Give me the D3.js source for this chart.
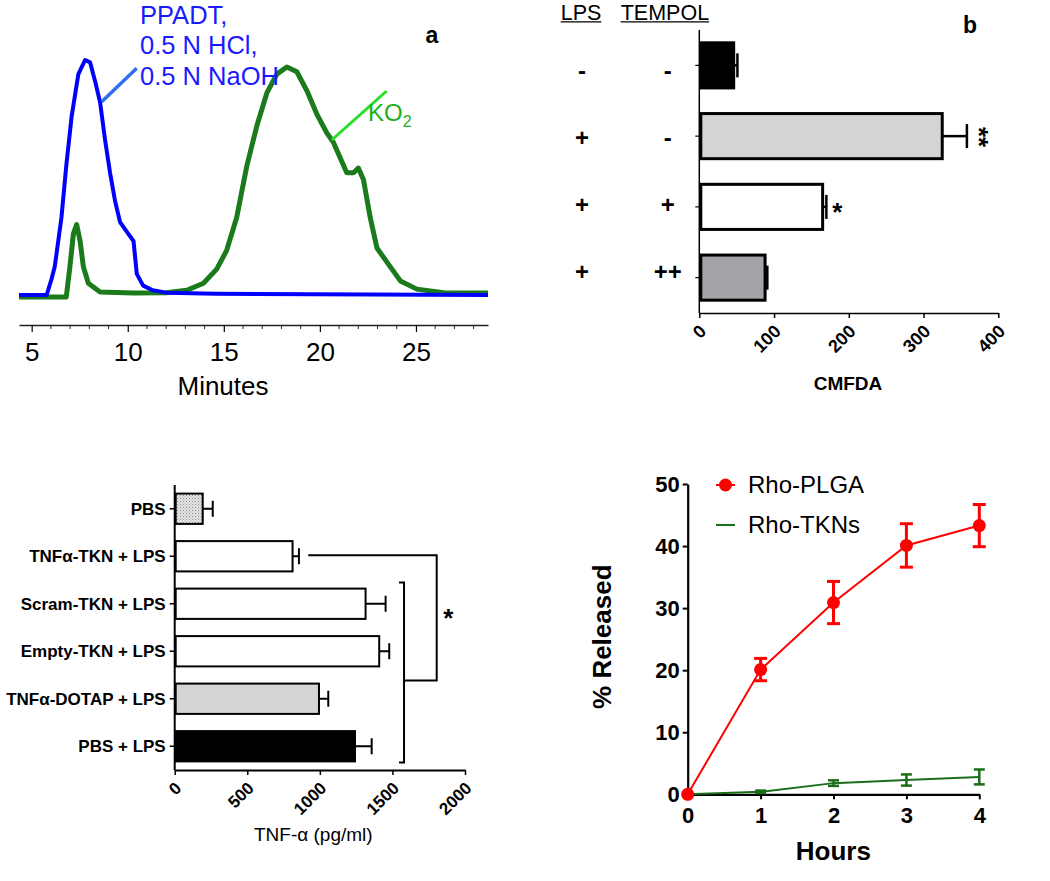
<!DOCTYPE html>
<html>
<head>
<meta charset="utf-8">
<script src="https://cdn.jsdelivr.net/npm/d3@7"></script>
<style>
  body { margin: 0; background: #fff; }
  svg { display: block; }
</style>
</head>
<body>
<svg id="chart" width="1050" height="881"></svg>
<script>
// ---- panel a: chromatogram traces ----
const blueMinutes = [4.34, 5.78, 6.04, 6.2, 6.55, 6.8, 7.08, 7.43, 7.78, 8.04, 8.3, 8.56, 8.82, 9.08, 9.34, 9.6, 10.03, 10.3, 10.47, 10.8, 11.3, 12.0, 14.6, 28.75];
const blueSignal = [0, 0, 0.07, 0.12, 0.33, 0.55, 0.76, 0.94, 1.0, 0.99, 0.91, 0.82, 0.66, 0.52, 0.40, 0.31, 0.26, 0.23, 0.09, 0.04, 0.02, 0.01, 0.005, 0];
const greenMinutes = [4.34, 6.8, 6.99, 7.17, 7.34, 7.52, 7.69, 7.95, 8.56, 10.3, 12.0, 13.07, 13.94, 14.63, 15.15, 15.67, 16.2, 16.72, 17.24, 17.76, 18.28, 18.8, 19.32, 19.84, 20.36, 20.7, 21.4, 21.75, 22.0, 22.27, 22.62, 22.97, 23.49, 24.19, 25.05, 26.44, 28.75];
const greenSignal = [-0.008, -0.008, 0.12, 0.26, 0.30, 0.23, 0.12, 0.05, 0.013, 0.008, 0.01, 0.02, 0.05, 0.11, 0.19, 0.33, 0.55, 0.72, 0.86, 0.94, 0.97, 0.95, 0.87, 0.77, 0.69, 0.65, 0.52, 0.52, 0.54, 0.49, 0.33, 0.20, 0.14, 0.06, 0.025, 0.01, 0.008];
const minuteTicks = [5, 10, 15, 20, 25];

// ---- panel b: CMFDA ----
const lpsSigns = ['-', '+', '+', '+'];
const tempolSigns = ['-', '-', '+', '++'];
const cmfdaMean = [46, 325, 165, 88];
const cmfdaErr = [5, 33, 5, 3];
const cmfdaStars = ['', '**', '*', ''];
const cmfdaTicks = [0, 100, 200, 300, 400];

// ---- panel c: TNF-alpha ----
const tnfGroups = ['PBS', 'TNFα-TKN + LPS', 'Scram-TKN + LPS', 'Empty-TKN + LPS', 'TNFα-DOTAP + LPS', 'PBS + LPS'];
const tnfMean = [193, 812, 1315, 1409, 994, 1242];
const tnfErr = [69, 44, 138, 69, 64, 115];
const tnfTicks = [0, 500, 1000, 1500, 2000];

// ---- panel d: release ----
const hours = [0, 1, 2, 3, 4];
const plgaRelease = [0, 20.1, 30.9, 40.1, 43.3];
const plgaErr = [0, 1.8, 3.4, 3.5, 3.4];
const tknRelease = [0, 0.4, 1.8, 2.3, 2.8];
const tknErr = [0, 0.2, 0.45, 0.9, 1.2];
const releaseTicks = [0, 10, 20, 30, 40, 50];

const FONT = '"Liberation Sans", Arial, sans-serif';
const svg = d3.select('#chart').attr('font-family', FONT);
svg.append('rect').attr('width', 1050).attr('height', 881).attr('fill', '#fff');
const intFmt = d3.format('d');

function styleAxis(g, size, weight) {
  g.attr('font-family', FONT).attr('font-size', size).attr('font-weight', weight || 'normal');
  g.selectAll('text').attr('fill', '#000');
  g.selectAll('line').attr('stroke', '#000');
  g.select('.domain').attr('stroke', '#000');
}

// ================= panel a =================
(function () {
  const x = d3.scaleLinear().domain([4.34, 28.75]).range([19, 488]);
  const y = d3.scaleLinear().domain([0, 1]).range([295, 60]);
  const g = svg.append('g');

  const axis = g.append('g').attr('transform', 'translate(0,325)')
    .call(d3.axisBottom(x).tickValues(minuteTicks).tickSize(7).tickSizeOuter(0).tickPadding(11));
  styleAxis(axis, 26);
  axis.select('.domain').attr('stroke', '#222').attr('stroke-width', 1.5);
  axis.selectAll('.tick line').attr('stroke-width', 1.2);

  g.append('g').selectAll('line')
    .data(d3.range(5, 29).filter(m => m % 5 !== 0))
    .join('line')
    .attr('x1', d => x(d)).attr('x2', d => x(d))
    .attr('y1', 325).attr('y2', 329)
    .attr('stroke', '#222').attr('stroke-width', 1);

  g.append('text').attr('x', 223).attr('y', 395)
    .attr('text-anchor', 'middle').attr('font-size', 26).text('Minutes');

  const line = d3.line().x(d => x(d[0])).y(d => y(d[1]));
  g.append('path')
    .datum(d3.zip(greenMinutes, greenSignal))
    .attr('d', line).attr('fill', 'none')
    .attr('stroke', '#1b7a1b').attr('stroke-width', 5).attr('stroke-linejoin', 'round');
  g.append('path')
    .datum(d3.zip(blueMinutes, blueSignal))
    .attr('d', line).attr('fill', 'none')
    .attr('stroke', '#0000ff').attr('stroke-width', 4).attr('stroke-linejoin', 'round');

  // labels with pointers
  const lab = g.append('text').attr('fill', '#1a1aff').attr('font-size', 25.5);
  ['PPADT,', '0.5 N HCl,', '0.5 N NaOH'].forEach((t, i) => {
    lab.append('tspan').attr('x', 140).attr('y', 23.5 + i * 30.5).text(t);
  });
  g.append('line').attr('x1', 101.7).attr('y1', 101.7).attr('x2', 136.7).attr('y2', 68.3)
    .attr('stroke', '#3070f0').attr('stroke-width', 3.5);

  g.append('line').attr('x1', 331.7).attr('y1', 140).attr('x2', 386.7).attr('y2', 91)
    .attr('stroke', '#22e022').attr('stroke-width', 3);
  const ko = g.append('text').attr('x', 368).attr('y', 121).attr('fill', '#20b020').attr('font-size', 24);
  ko.append('tspan').text('KO');
  ko.append('tspan').attr('font-size', 16).attr('dy', 6).text('2');

  g.append('text').attr('x', 432).attr('y', 43).attr('text-anchor', 'middle')
    .attr('font-size', 23).attr('font-weight', 'bold').text('a');
})();

// ================= panel b =================
(function () {
  const g = svg.append('g');
  const x = d3.scaleLinear().domain([0, 400]).range([699.3, 998.3]);
  const y = d3.scaleBand().domain(d3.range(cmfdaMean.length)).range([30, 313])
    .paddingInner(0.32).paddingOuter(0.16);
  const row = d3.scalePoint().domain(d3.range(cmfdaMean.length)).range([78.7, 279.5]);

  // header
  [['LPS', 560.7], ['TEMPOL', 620.7]].forEach(([t, px]) => {
    const txt = g.append('text').attr('x', px).attr('y', 19.5).attr('font-size', 21.5).text(t);
    const w = txt.node().getComputedTextLength();
    g.append('line').attr('x1', px).attr('x2', px + w).attr('y1', 21.8).attr('y2', 21.8)
      .attr('stroke', '#000').attr('stroke-width', 1.2);
  });
  g.append('text').attr('x', 970).attr('y', 33).attr('text-anchor', 'middle')
    .attr('font-size', 23).attr('font-weight', 'bold').text('b');

  g.selectAll('text.lps').data(lpsSigns).join('text').attr('class', 'lps')
    .attr('x', 582).attr('y', (d, i) => row(i)).attr('text-anchor', 'middle')
    .attr('font-size', 24).attr('font-weight', 'bold').text(d => d);
  g.selectAll('text.tempol').data(tempolSigns).join('text').attr('class', 'tempol')
    .attr('x', 667.7).attr('y', (d, i) => row(i)).attr('text-anchor', 'middle')
    .attr('font-size', 24).attr('font-weight', 'bold').text(d => d);

  const fills = ['#000000', '#d4d4d4', '#ffffff', '#a3a3a8'];
  g.selectAll('rect.bar').data(cmfdaMean).join('rect').attr('class', 'bar')
    .attr('x', x(0) + 1.5).attr('y', (d, i) => y(i) + 1.5)
    .attr('width', d => x(d) - x(0) - 1.5).attr('height', y.bandwidth() - 3)
    .attr('fill', (d, i) => fills[i]).attr('stroke', '#000').attr('stroke-width', 3);

  cmfdaMean.forEach((m, i) => {
    const cy = y(i) + y.bandwidth() / 2;
    const xe = x(m + cmfdaErr[i]);
    g.append('line').attr('x1', x(m)).attr('x2', xe).attr('y1', cy).attr('y2', cy)
      .attr('stroke', '#000').attr('stroke-width', 2.5);
    g.append('line').attr('x1', xe).attr('x2', xe).attr('y1', cy - 12).attr('y2', cy + 12)
      .attr('stroke', '#000').attr('stroke-width', 2.5);
  });

  // stars
  const i2 = cmfdaStars.indexOf('**');
  g.append('text')
    .attr('transform', `translate(${x(cmfdaMean[i2] + cmfdaErr[i2]) + 3.5},${y(i2) + y.bandwidth() / 2 + 1}) rotate(90)`)
    .attr('text-anchor', 'middle').attr('font-size', 26).attr('font-weight', 'bold').text('**');
  const i1 = cmfdaStars.indexOf('*');
  g.append('text')
    .attr('x', x(cmfdaMean[i1] + cmfdaErr[i1]) + 11).attr('y', y(i1) + y.bandwidth() / 2 + 14)
    .attr('text-anchor', 'middle').attr('font-size', 26).attr('font-weight', 'bold').text('*');

  // axes
  g.append('line').attr('x1', x(0)).attr('x2', x(0)).attr('y1', 30).attr('y2', 313)
    .attr('stroke', '#000').attr('stroke-width', 1.5);
  g.selectAll('line.ytick').data(cmfdaMean).join('line').attr('class', 'ytick')
    .attr('x1', x(0) - 4).attr('x2', x(0)).attr('y1', (d, i) => y(i) + y.bandwidth() / 2)
    .attr('y2', (d, i) => y(i) + y.bandwidth() / 2).attr('stroke', '#000').attr('stroke-width', 1.2);

  const ax = g.append('g').attr('transform', 'translate(0,313)')
    .call(d3.axisBottom(x).tickValues(cmfdaTicks).tickFormat(intFmt).tickSize(5).tickSizeOuter(0));
  styleAxis(ax, 18, 'bold');
  ax.select('.domain').attr('stroke-width', 1.5);
  ax.selectAll('.tick line').attr('stroke-width', 1.5);
  ax.selectAll('.tick text')
    .attr('text-anchor', 'end').attr('dy', '0.35em').attr('y', 0)
    .attr('transform', 'translate(3,15) rotate(-45)');

  g.append('text').attr('x', 848).attr('y', 390).attr('text-anchor', 'middle')
    .attr('font-size', 19).attr('font-weight', 'bold').text('CMFDA');
})();

// ================= panel c =================
(function () {
  const g = svg.append('g');
  const x = d3.scaleLinear().domain([0, 2000]).range([174.7, 465]);
  const y = d3.scaleBand().domain(tnfGroups).range([485, 770]).paddingInner(0.32).paddingOuter(0.16);

  const defs = svg.append('defs');
  const pat = defs.append('pattern').attr('id', 'stipple').attr('patternUnits', 'userSpaceOnUse')
    .attr('width', 3).attr('height', 3);
  pat.append('rect').attr('width', 3).attr('height', 3).attr('fill', '#e6e6e6');
  pat.append('rect').attr('width', 1).attr('height', 1).attr('fill', '#8a8a8a');
  pat.append('rect').attr('x', 1.5).attr('y', 1.5).attr('width', 1).attr('height', 1).attr('fill', '#a8a8a8');

  const fills = ['url(#stipple)', '#ffffff', '#ffffff', '#ffffff', '#d4d4d4', '#000000'];
  g.selectAll('rect.bar').data(tnfMean).join('rect').attr('class', 'bar')
    .attr('x', x(0) + 1).attr('y', (d, i) => y(tnfGroups[i]) + 1)
    .attr('width', d => x(d) - x(0) - 1).attr('height', y.bandwidth() - 2)
    .attr('fill', (d, i) => fills[i]).attr('stroke', '#000').attr('stroke-width', 2);

  tnfMean.forEach((m, i) => {
    const cy = y(tnfGroups[i]) + y.bandwidth() / 2;
    const xe = x(m + tnfErr[i]);
    g.append('line').attr('x1', x(m)).attr('x2', xe).attr('y1', cy).attr('y2', cy)
      .attr('stroke', '#000').attr('stroke-width', 2);
    g.append('line').attr('x1', xe).attr('x2', xe).attr('y1', cy - 8).attr('y2', cy + 8)
      .attr('stroke', '#000').attr('stroke-width', 2);
  });

  // y axis + labels
  g.append('line').attr('x1', x(0)).attr('x2', x(0)).attr('y1', 485).attr('y2', 770)
    .attr('stroke', '#000').attr('stroke-width', 2);
  tnfGroups.forEach(name => {
    const cy = y(name) + y.bandwidth() / 2;
    g.append('line').attr('x1', x(0) - 5).attr('x2', x(0)).attr('y1', cy).attr('y2', cy)
      .attr('stroke', '#000').attr('stroke-width', 1.5);
    g.append('text').attr('x', 165.7).attr('y', cy).attr('dy', '0.35em')
      .attr('text-anchor', 'end').attr('font-size', 17).attr('font-weight', 'bold').text(name);
  });

  const ax = g.append('g').attr('transform', 'translate(0,770)')
    .call(d3.axisBottom(x).tickValues(tnfTicks).tickFormat(intFmt).tickSize(5).tickSizeOuter(0));
  styleAxis(ax, 17, 'bold');
  ax.select('.domain').attr('stroke-width', 2);
  ax.selectAll('.tick line').attr('stroke-width', 1.5);
  ax.selectAll('.tick text')
    .attr('text-anchor', 'end').attr('dy', '0.35em').attr('y', 0)
    .attr('transform', 'translate(3,15) rotate(-45)');

  g.append('text').attr('x', 313.3).attr('y', 841).attr('text-anchor', 'middle')
    .attr('font-size', 19).text('TNF-α (pg/ml)');

  // significance brackets
  const tkn = y(tnfGroups[1]) + y.bandwidth() / 2 - 1;
  const top = y(tnfGroups[2]) - 5;
  const bot = y(tnfGroups[5]) + y.bandwidth();
  const mid = (top + bot) / 2 + 8;
  g.append('path')
    .attr('d', `M${x(920)},${tkn}H${x(1805)}V${mid}H${x(1580)}`)
    .attr('fill', 'none').attr('stroke', '#000').attr('stroke-width', 2);
  g.append('path')
    .attr('d', `M${x(1545)},${top}H${x(1580)}V${bot}H${x(1545)}`)
    .attr('fill', 'none').attr('stroke', '#000').attr('stroke-width', 2);
  g.append('text').attr('x', x(1885)).attr('y', 627).attr('text-anchor', 'middle')
    .attr('font-size', 26).attr('font-weight', 'bold').text('*');
})();

// ================= panel d =================
(function () {
  const g = svg.append('g');
  const x = d3.scaleLinear().domain([0, 4]).range([687.7, 979.3]);
  const y = d3.scaleLinear().domain([0, 50]).range([794.3, 484]);

  const ay = g.append('g').attr('transform', `translate(${x(0)},0)`)
    .call(d3.axisLeft(y).tickValues(releaseTicks).tickFormat(intFmt).tickSize(5).tickSizeOuter(0).tickPadding(3));
  styleAxis(ay, 22, 'bold');
  ay.select('.domain').attr('stroke-width', 2.2);
  ay.selectAll('.tick line').attr('stroke-width', 2);

  const axb = g.append('g').attr('transform', `translate(0,${y(0)})`)
    .call(d3.axisBottom(x).tickValues(hours).tickFormat(intFmt).tickSize(5).tickSizeOuter(0).tickPadding(8));
  styleAxis(axb, 22, 'bold');
  axb.select('.domain').attr('stroke-width', 2.2);
  axb.selectAll('.tick line').attr('stroke-width', 2);

  g.append('text').attr('x', 833.3).attr('y', 860).attr('text-anchor', 'middle')
    .attr('font-size', 26).attr('font-weight', 'bold').text('Hours');
  g.append('text').attr('transform', 'translate(610.7,636.7) rotate(-90)')
    .attr('text-anchor', 'middle').attr('font-size', 26).attr('font-weight', 'bold').text('% Released');

  const line = d3.line().x(d => x(d[0])).y(d => y(d[1]));

  function series(vals, errs, color, capW, errW) {
    g.append('path').datum(d3.zip(hours, vals)).attr('d', line)
      .attr('fill', 'none').attr('stroke', color).attr('stroke-width', 2);
    hours.forEach((h, i) => {
      if (!errs[i]) return;
      const cx = x(h), y1 = y(vals[i] + errs[i]), y2 = y(vals[i] - errs[i]);
      g.append('line').attr('x1', cx).attr('x2', cx).attr('y1', y1).attr('y2', y2)
        .attr('stroke', color).attr('stroke-width', errW);
      [y1, y2].forEach(yy => g.append('line')
        .attr('x1', cx - capW / 2).attr('x2', cx + capW / 2).attr('y1', yy).attr('y2', yy)
        .attr('stroke', color).attr('stroke-width', errW));
    });
  }
  series(tknRelease, tknErr, '#1a6e1a', 11, 2.5);
  series(plgaRelease, plgaErr, '#ff0000', 13, 3);
  g.selectAll('circle.plga').data(plgaRelease).join('circle').attr('class', 'plga')
    .attr('cx', (d, i) => x(hours[i])).attr('cy', d => y(d)).attr('r', 6.5).attr('fill', '#ff0000');

  // legend
  g.append('line').attr('x1', 716).attr('x2', 735).attr('y1', 485).attr('y2', 485)
    .attr('stroke', '#ff0000').attr('stroke-width', 2);
  g.append('circle').attr('cx', 725.5).attr('cy', 485).attr('r', 6.5).attr('fill', '#ff0000');
  g.append('text').attr('x', 748).attr('y', 485).attr('dy', '0.35em')
    .attr('font-size', 24).text('Rho-PLGA');
  g.append('line').attr('x1', 716).attr('x2', 735).attr('y1', 525).attr('y2', 525)
    .attr('stroke', '#1a6e1a').attr('stroke-width', 2);
  g.append('text').attr('x', 748).attr('y', 525).attr('dy', '0.35em')
    .attr('font-size', 24).text('Rho-TKNs');
})();
</script>
</body>
</html>
